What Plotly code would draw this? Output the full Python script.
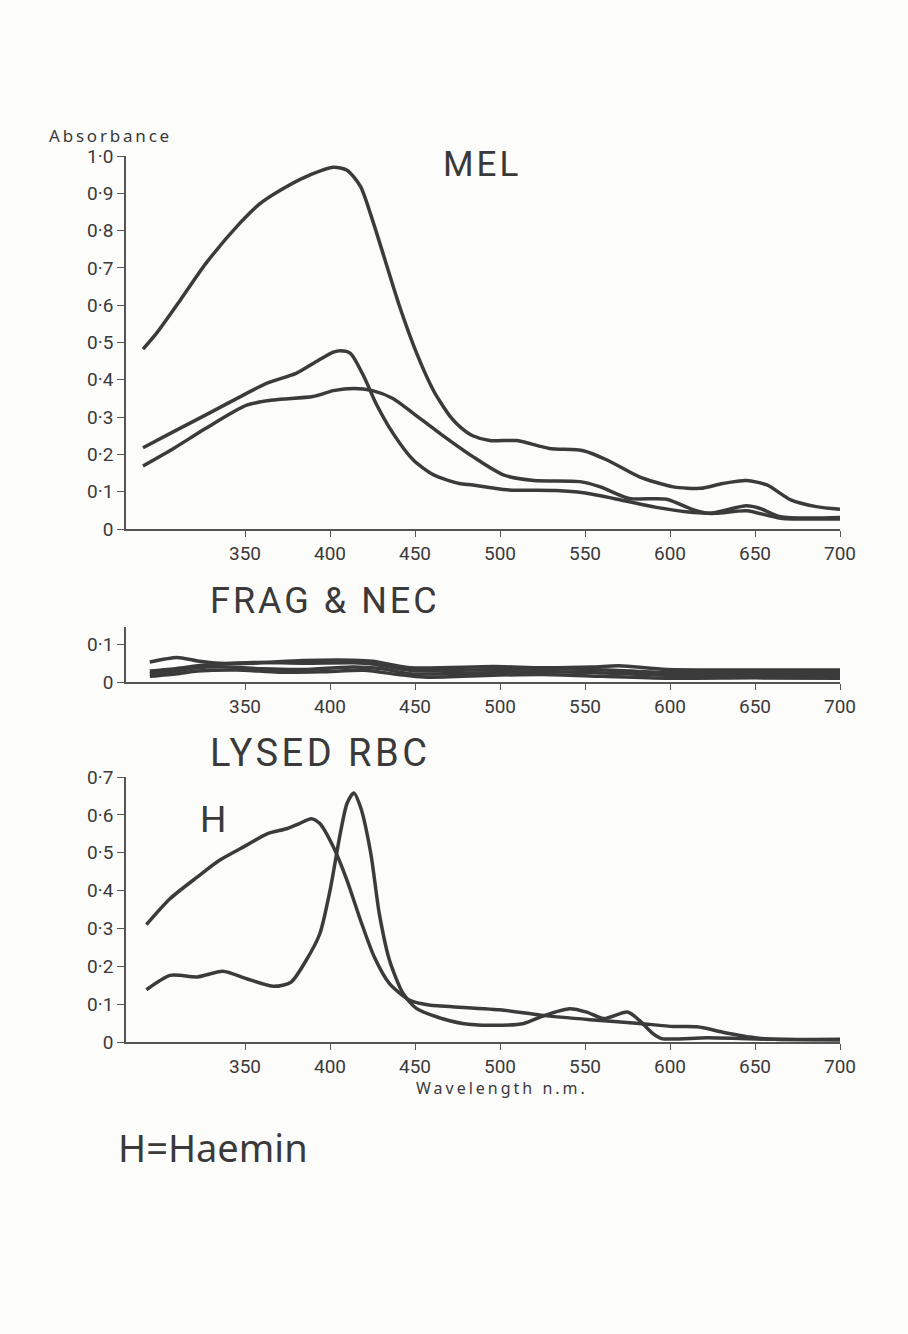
import plotly.graph_objects as go

W, H = 908, 1334

# ---------------- data ----------------
# MEL panel (three spectra)
mel_a_wl = [290, 298, 312, 327, 347, 359, 371, 386, 402, 410, 418, 425, 433, 441, 451, 461, 465, 471, 477, 484, 494, 510, 529, 549, 563, 582, 602, 618, 631, 645, 657, 671, 686, 700]
mel_a_ab = [0.482, 0.525, 0.614, 0.712, 0.820, 0.873, 0.909, 0.945, 0.970, 0.962, 0.918, 0.828, 0.712, 0.596, 0.471, 0.370, 0.340, 0.300, 0.272, 0.250, 0.237, 0.237, 0.216, 0.210, 0.185, 0.140, 0.113, 0.109, 0.122, 0.130, 0.118, 0.078, 0.060, 0.053]

mel_b_wl = [290, 308, 327, 349, 363, 380, 392, 402, 406, 412, 420, 427, 437, 449, 461, 476, 484, 504, 533, 549, 571, 592, 614, 627, 645, 665, 700]
mel_b_ab = [0.218, 0.261, 0.306, 0.359, 0.391, 0.417, 0.449, 0.474, 0.478, 0.471, 0.408, 0.337, 0.257, 0.185, 0.145, 0.122, 0.118, 0.105, 0.103, 0.097, 0.078, 0.058, 0.044, 0.042, 0.049, 0.029, 0.027]

mel_c_wl = [290, 308, 327, 351, 367, 390, 402, 414, 425, 437, 449, 465, 484, 502, 520, 547, 559, 576, 598, 614, 623, 645, 653, 665, 700]
mel_c_ab = [0.169, 0.216, 0.270, 0.332, 0.346, 0.355, 0.371, 0.377, 0.371, 0.350, 0.310, 0.255, 0.194, 0.145, 0.130, 0.127, 0.113, 0.082, 0.080, 0.051, 0.042, 0.062, 0.055, 0.033, 0.031]

# FRAG & NEC panel (four spectra)
frag1_wl = [294, 310, 322, 335, 355, 384, 414, 425, 447, 496, 525, 555, 570, 598, 650, 700]
frag1_ab = [0.053, 0.065, 0.056, 0.050, 0.050, 0.057, 0.058, 0.055, 0.038, 0.041, 0.038, 0.040, 0.043, 0.033, 0.032, 0.032]
frag2_wl = [294, 310, 322, 335, 355, 384, 414, 425, 447, 496, 525, 555, 598, 650, 700]
frag2_ab = [0.029, 0.036, 0.043, 0.048, 0.052, 0.050, 0.051, 0.048, 0.031, 0.033, 0.035, 0.033, 0.025, 0.026, 0.025]
frag3_wl = [294, 310, 322, 340, 360, 384, 414, 430, 447, 496, 525, 555, 598, 650, 700]
frag3_ab = [0.022, 0.030, 0.038, 0.040, 0.035, 0.033, 0.040, 0.036, 0.022, 0.025, 0.028, 0.025, 0.018, 0.018, 0.018]
frag4_wl = [294, 310, 322, 345, 370, 395, 420, 440, 455, 496, 525, 560, 598, 650, 700]
frag4_ab = [0.015, 0.022, 0.029, 0.032, 0.026, 0.027, 0.031, 0.020, 0.013, 0.018, 0.020, 0.015, 0.010, 0.011, 0.010]

# LYSED RBC panel: Haemin (H) and lysed RBC
haem_wl = [292, 306, 322, 335, 351, 363, 375, 382, 389, 394, 402, 410, 418, 426, 435, 447, 459, 465, 500, 524, 553, 582, 602, 616, 631, 647, 661, 700]
haem_ab = [0.310, 0.379, 0.436, 0.480, 0.520, 0.550, 0.564, 0.577, 0.590, 0.577, 0.515, 0.427, 0.321, 0.225, 0.154, 0.110, 0.097, 0.095, 0.085, 0.071, 0.059, 0.049, 0.041, 0.040, 0.026, 0.013, 0.007, 0.007]

rbc_wl = [292, 306, 322, 337, 351, 367, 377, 386, 394, 400, 406, 410, 414, 418, 424, 429, 435, 443, 451, 463, 478, 494, 514, 526, 541, 551, 561, 575, 582, 590, 595, 622, 661, 700]
rbc_ab = [0.138, 0.176, 0.172, 0.187, 0.167, 0.147, 0.158, 0.216, 0.286, 0.400, 0.550, 0.630, 0.658, 0.620, 0.498, 0.339, 0.216, 0.128, 0.088, 0.066, 0.049, 0.044, 0.049, 0.070, 0.088, 0.079, 0.062, 0.079, 0.057, 0.022, 0.009, 0.011, 0.007, 0.005]

x_ticks = [350, 400, 450, 500, 550, 600, 650, 700]
top_ticks = [0, 0.1, 0.2, 0.3, 0.4, 0.5, 0.6, 0.7, 0.8, 0.9, 1.0]
top_labels = ["0", "0·1", "0·2", "0·3", "0·4", "0·5", "0·6", "0·7", "0·8", "0·9", "1·0"]
mid_ticks = [0, 0.1]
mid_labels = ["0", "0·1"]
bot_ticks = [0, 0.1, 0.2, 0.3, 0.4, 0.5, 0.6, 0.7]
bot_labels = ["0", "0·1", "0·2", "0·3", "0·4", "0·5", "0·6", "0·7"]

# ---------------- figure ----------------
LINE = "#3b3b3b"
AX = "#555555"
TXT = "#3a3a3a"
FONT = "Roboto"
BG = "#fcfcfb"


def px_x(p):
    return p / W


def px_y(p):
    return 1 - p / H


fig = go.Figure()

def add(wl, ab, xa, ya):
    fig.add_trace(go.Scatter(x=wl, y=ab, mode="lines", xaxis=xa, yaxis=ya,
                             line=dict(color=LINE, width=3.5, shape="spline", smoothing=0.7),
                             showlegend=False, hoverinfo="skip"))

add(mel_a_wl, mel_a_ab, "x", "y")
add(mel_b_wl, mel_b_ab, "x", "y")
add(mel_c_wl, mel_c_ab, "x", "y")
add(frag1_wl, frag1_ab, "x2", "y2")
add(frag2_wl, frag2_ab, "x2", "y2")
add(frag3_wl, frag3_ab, "x2", "y2")
add(frag4_wl, frag4_ab, "x2", "y2")
add(haem_wl, haem_ab, "x3", "y3")
add(rbc_wl, rbc_ab, "x3", "y3")

xdom = [px_x(126), px_x(840)]

def xax(anchor):
    return dict(domain=xdom, range=[280, 700], anchor=anchor, showgrid=False, zeroline=False,
                showline=True, linecolor=AX, linewidth=1.5, ticks="outside", ticklen=6,
                tickwidth=1.3, tickcolor=AX, tickvals=x_ticks, automargin=False,
                tickfont=dict(family=FONT, size=19, color=TXT), fixedrange=True)

def yax(anchor, dom, rng, tv, tt):
    return dict(domain=dom, range=rng, anchor=anchor, showgrid=False, zeroline=False,
                showline=True, linecolor=AX, linewidth=1.5, ticks="outside", ticklen=7,
                tickwidth=1.3, tickcolor=AX, tickvals=tv, ticktext=tt, automargin=False,
                tickfont=dict(family=FONT, size=19, color=TXT), fixedrange=True)

fig.update_layout(
    width=W, height=H, autosize=False,
    margin=dict(l=0, r=0, t=0, b=0, pad=0, autoexpand=False),
    paper_bgcolor=BG, plot_bgcolor=BG,
    xaxis=xax("y"), xaxis2=xax("y2"), xaxis3=xax("y3"),
    yaxis=yax("x", [px_y(529), px_y(156)], [0, 1.0], top_ticks, top_labels),
    yaxis2=yax("x2", [px_y(682), px_y(627)], [0, 0.146], mid_ticks, mid_labels),
    yaxis3=yax("x3", [px_y(1042), px_y(777)], [0, 0.7], bot_ticks, bot_labels),
)

def label(text, x, y, size, spacing=0, xanchor="left", family=FONT):
    if spacing:
        text = '<span style="letter-spacing:%.1fpx">%s</span>' % (spacing, text)
    fig.add_annotation(text=text, x=px_x(x), y=px_y(y), xref="paper", yref="paper",
                       xanchor=xanchor, yanchor="middle", showarrow=False,
                       font=dict(family=family, size=size, color=TXT))

label("Absorbance", 47, 135, 17, spacing=2.8, family="Noto Sans")
label("MEL", 441, 165, 35, spacing=3)
label("FRAG &amp; NEC", 208, 601, 36, spacing=3)
label("LYSED RBC", 208, 753, 38, spacing=3.5)
label("H", 198, 819, 37)
label("Wavelength n.m.", 414, 1088, 16, spacing=3, family="Noto Sans")
label("H=Haemin", 116, 1147, 38, family="Noto Sans")

fig.write_html(
    "out.html",
    config={"displayModeBar": False},
    post_script="document.body.style.margin='0';document.body.style.padding='0';"
                "document.body.style.background='" + BG + "';"
                "document.documentElement.style.overflow='hidden';",
)
